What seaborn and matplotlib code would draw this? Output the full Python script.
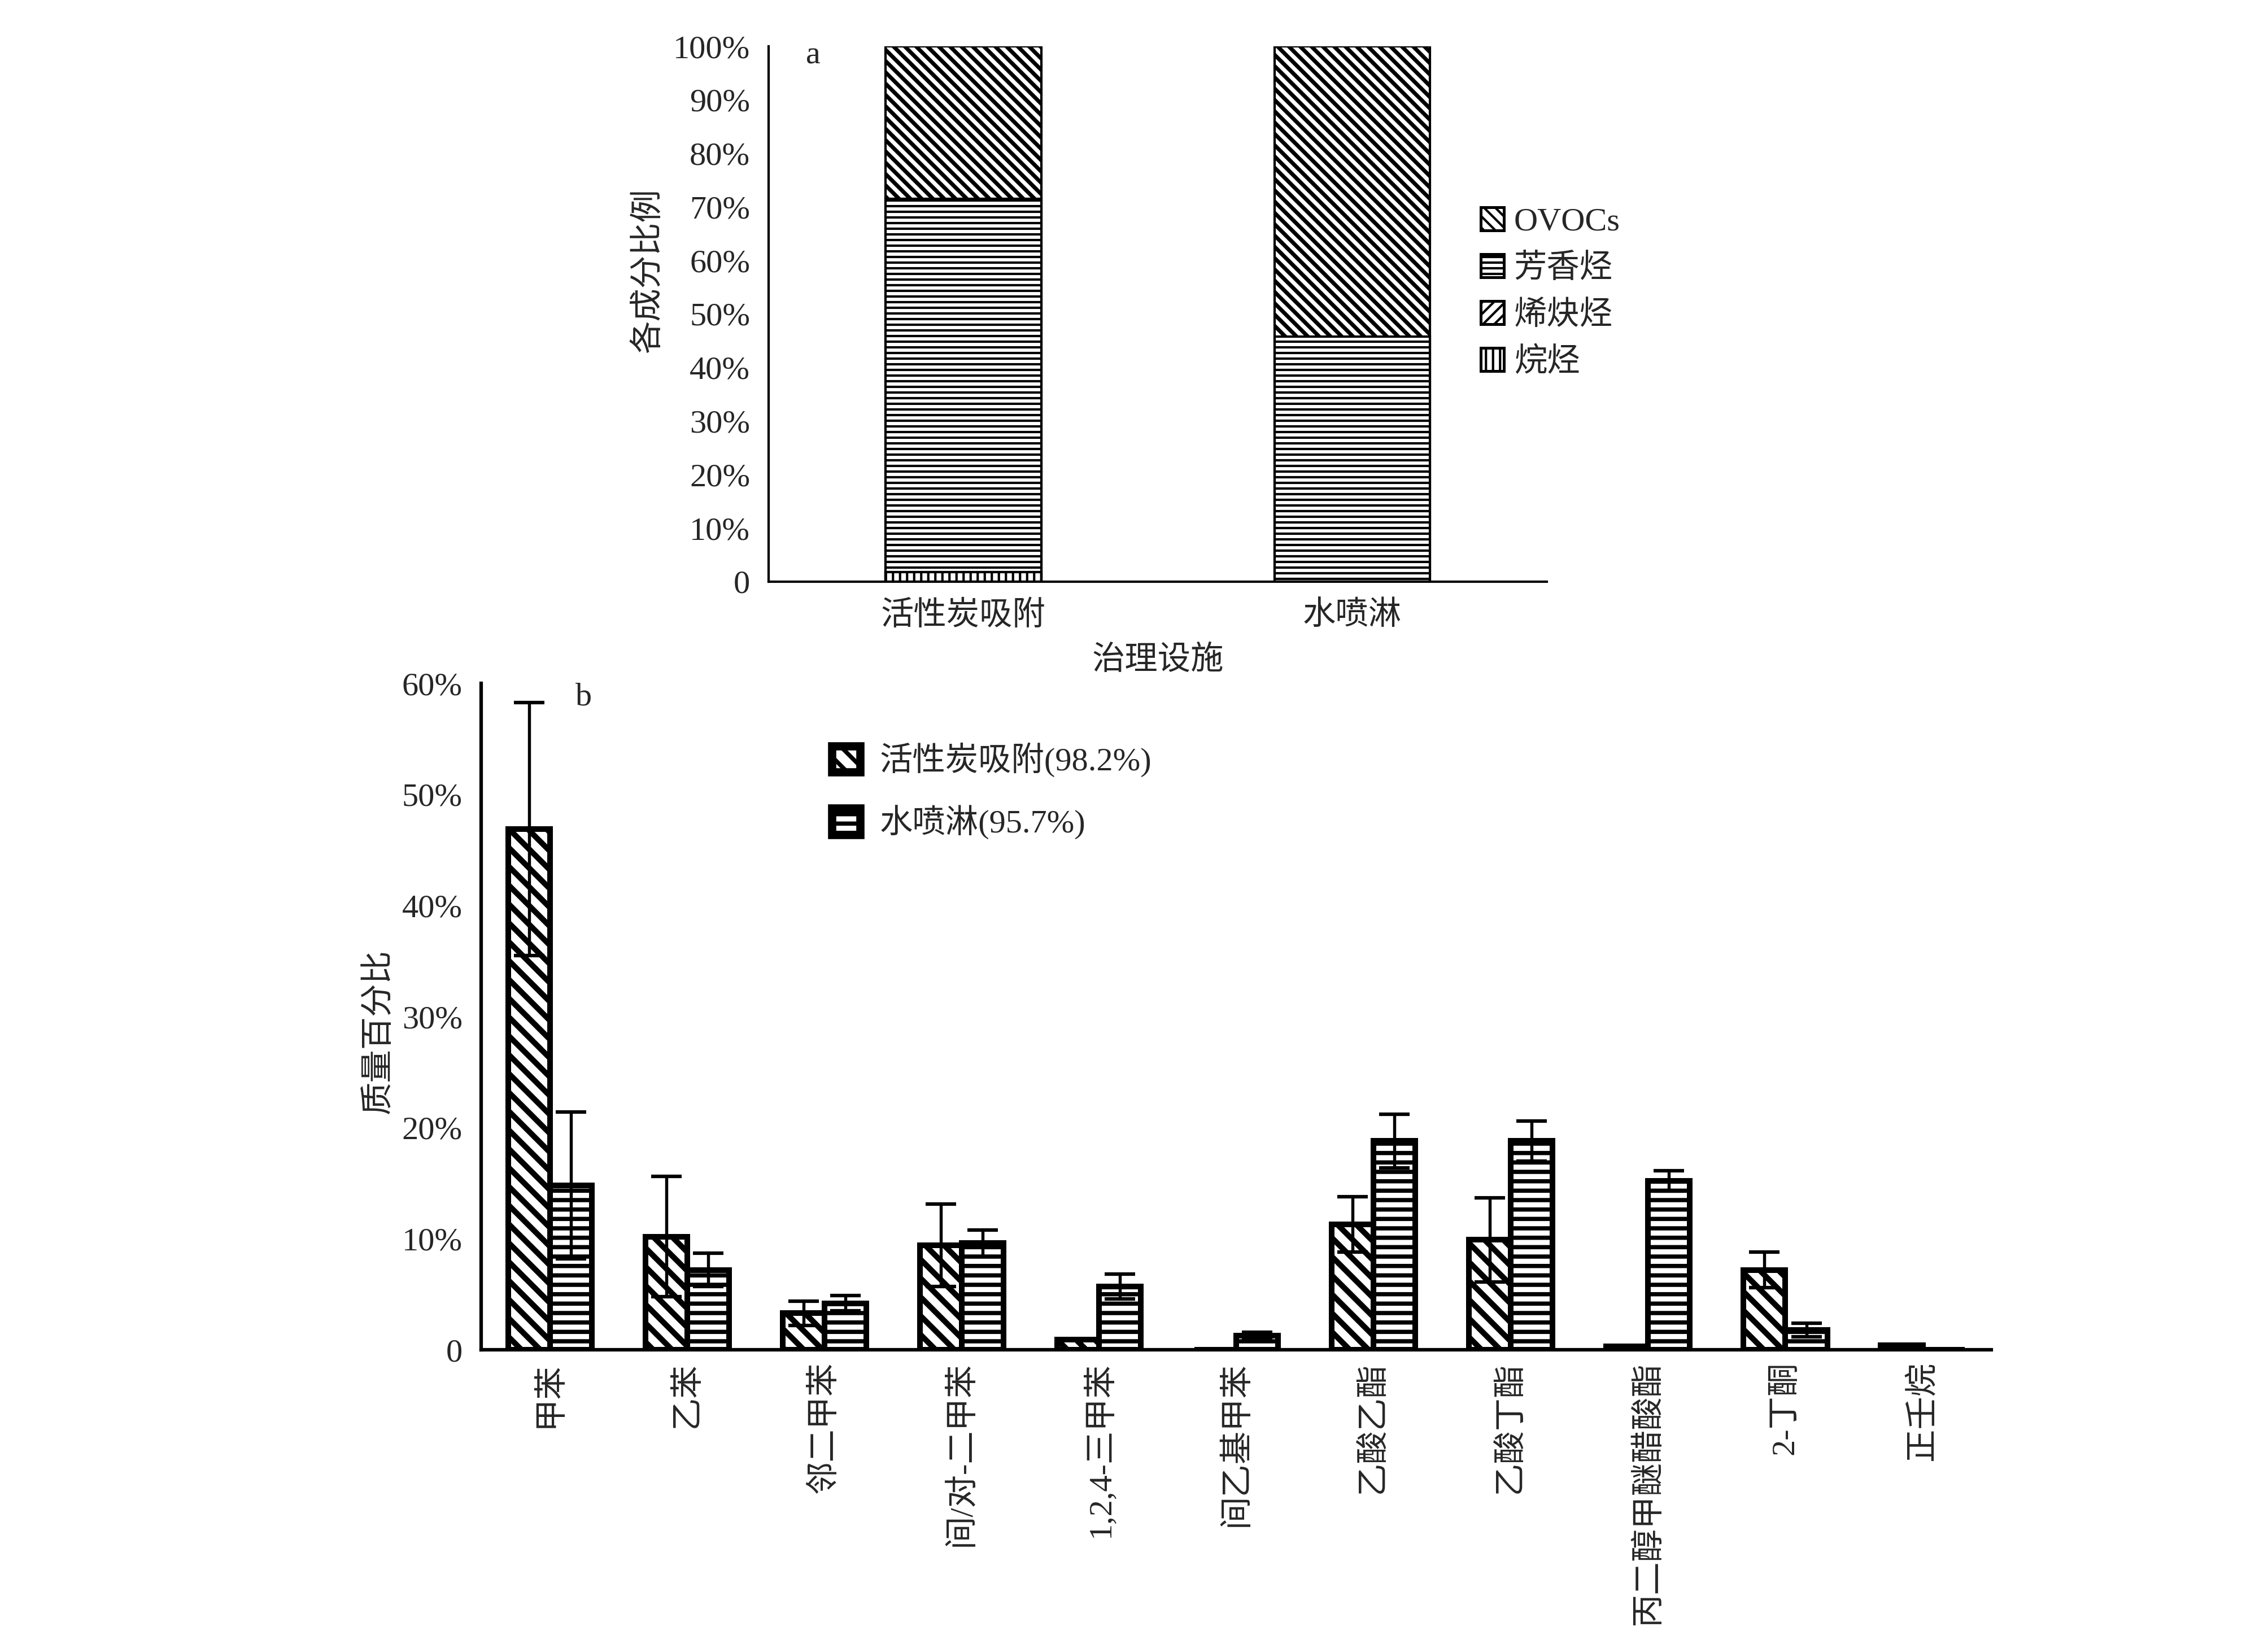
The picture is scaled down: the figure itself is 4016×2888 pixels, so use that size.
"""
Component shares (a) and mass percentages of VOC species (b) by treatment facility
"""
import numpy as np
import pandas as pd
import matplotlib
matplotlib.use('Agg')
import matplotlib.pyplot as plt
import seaborn as sns
from matplotlib.patches import Patch
from matplotlib.ticker import FuncFormatter, MultipleLocator

sns.set_style('white')
plt.rcParams['font.family'] = ['Liberation Serif', 'Noto Sans CJK SC']
plt.rcParams['font.size'] = 14
plt.rcParams['axes.unicode_minus'] = False

# ---- data, panel a (stacked shares, %) ----
facilities = ['活性炭吸附', '水喷淋']
alkane = [1.8, 0.0]
olefin = [0.0, 0.0]
aromatic = [69.7, 45.8]
ovoc = [28.5, 54.2]

# ---- data, panel b (mass %, mean and error) ----
compounds = ['甲苯', '乙苯', '邻二甲苯', '间/对-二甲苯', '1,2,4-三甲苯', '间乙基甲苯',
             '乙酸乙酯', '乙酸丁酯', '丙二醇甲醚醋酸酯', '2-丁酮', '正壬烷']
ac_mean = [46.9, 10.2, 3.3, 9.4, 0.9, 0.0, 11.3, 9.9, 0.3, 7.2, 0.4]
ac_err = [11.4, 5.4, 1.1, 3.7, 0.0, 0.0, 2.5, 3.8, 0.0, 1.6, 0.0]
ws_mean = [14.8, 7.2, 4.2, 9.6, 5.7, 1.3, 18.8, 18.8, 15.2, 1.8, 0.0]
ws_err = [6.6, 1.5, 0.7, 1.2, 1.1, 0.3, 2.4, 1.8, 0.9, 0.6, 0.0]
series_b = ['活性炭吸附(98.2%)', '水喷淋(95.7%)']

pct = FuncFormatter(lambda v, p: '0' if v == 0 else f'{v:.0f}%')


def set_hatch_lw(patch, lw):
    if hasattr(patch, 'set_hatch_linewidth'):
        patch.set_hatch_linewidth(lw)


fig = plt.figure(figsize=(4016 / 300, 2888 / 300))

# ================= panel a =================
ax1 = fig.add_axes([0.339, 0.6434, 0.343, 0.3282])

c1 = np.array(alkane)
c2 = c1 + np.array(olefin)
c3 = c2 + np.array(aromatic)
c4 = c3 + np.array(ovoc)
# (cumulative top, hatch, label, hatch line width)
layers = [(c4, '\\' * 5, 'OVOCs', 1.7), (c3, '-' * 5, '芳香烃', 1.0),
          (c2, '/' * 5, '烯炔烃', 1.7), (c1, '|' * 4, '烷烃', 1.0)]
for vals, hatch, name, hlw in layers:
    plt.rcParams['hatch.linewidth'] = hlw
    n_before = len(ax1.patches)
    sns.barplot(x=facilities, y=vals, order=facilities, color='white', saturation=1,
                edgecolor='black', linewidth=1.0, width=0.4, hatch=hatch, ax=ax1)
    for p in ax1.patches[n_before:]:
        set_hatch_lw(p, hlw)

ax1.set_ylim(0, 100)
ax1.set_xlim(-0.5, 1.5)
ax1.yaxis.set_major_locator(MultipleLocator(10))
ax1.yaxis.set_major_formatter(pct)
ax1.set_xticks([1.5], minor=True)
ax1.tick_params(axis='y', direction='in', length=4, width=1, pad=8, labelsize=14)
ax1.tick_params(axis='x', which='major', length=0, pad=8, labelsize=14)
ax1.tick_params(axis='x', which='minor', direction='in', length=6, width=1)
for s in ['top', 'right']:
    ax1.spines[s].set_visible(False)
for s in ['left', 'bottom']:
    ax1.spines[s].set_linewidth(1.0)
    ax1.spines[s].set_color('black')
ax1.set_xlabel('治理设施', fontsize=14, labelpad=6)
ax1.set_ylabel('各成分比例', fontsize=14)
ax1.yaxis.set_label_coords(-0.135, 0.581)
ax1.text(0.057, 0.983, 'a', transform=ax1.transAxes, ha='center', va='center', fontsize=14)

handles_a = []
for _, h, n, hlw in layers:
    plt.rcParams['hatch.linewidth'] = hlw
    hp = Patch(facecolor='white', edgecolor='black', linewidth=1.2, hatch=h, label=n)
    set_hatch_lw(hp, hlw)
    handles_a.append(hp)
fig.legend(handles=handles_a, loc='upper left', bbox_to_anchor=(0.653, 0.873),
           frameon=False, fontsize=14, borderpad=0, borderaxespad=0,
           handlelength=0.7, handleheight=0.7, handletextpad=0.3, labelspacing=0.5)

# ================= panel b =================
ax2 = fig.add_axes([0.2122, 0.1724, 0.6658, 0.4086])

df = pd.DataFrame({
    'compound': compounds * 2,
    'facility': [series_b[0]] * len(compounds) + [series_b[1]] * len(compounds),
    'value': ac_mean + ws_mean,
})
plt.rcParams['hatch.linewidth'] = 2.3
sns.barplot(data=df, x='compound', y='value', hue='facility', order=compounds,
            hue_order=series_b, palette=['white', 'white'], saturation=1,
            edgecolor='black', linewidth=2.4, width=0.61, errorbar=None,
            legend=False, ax=ax2)

hatches_b = ['\\' * 3, '-' * 3]
hatch_lw_b = [2.4, 1.8]
for cont, hatch, hlw, errs in zip(ax2.containers, hatches_b, hatch_lw_b, [ac_err, ws_err]):
    xs, ys, es = [], [], []
    for bar, e in zip(cont, errs):
        bar.set_hatch(hatch)
        set_hatch_lw(bar, hlw)
        if e > 0:
            xs.append(bar.get_x() + bar.get_width() / 2)
            ys.append(bar.get_height())
            es.append(e)
    ax2.errorbar(xs, ys, yerr=es, fmt='none', ecolor='black', elinewidth=1.3,
                 capsize=6.5, capthick=1.5, zorder=5)

ax2.set_ylim(0, 60)
ax2.set_xlim(-0.5, len(compounds) - 0.5)
ax2.yaxis.set_major_locator(MultipleLocator(10))
ax2.yaxis.set_major_formatter(pct)
ax2.set_xticks([len(compounds) - 0.5], minor=True)
ax2.set_xticks(range(len(compounds)))
ax2.set_xticklabels(compounds, rotation=90, fontsize=14)
ax2.tick_params(axis='y', direction='in', length=7, width=1.5, pad=8, labelsize=14)
ax2.tick_params(axis='x', which='major', length=0, pad=5)
ax2.tick_params(axis='x', which='minor', direction='in', length=12, width=1.5)
for s in ['top', 'right']:
    ax2.spines[s].set_visible(False)
for s in ['left', 'bottom']:
    ax2.spines[s].set_linewidth(1.5)
    ax2.spines[s].set_color('black')
ax2.set_xlabel('')
ax2.set_ylabel('质量百分比', fontsize=14)
ax2.yaxis.set_label_coords(-0.0576, 0.478)
ax2.text(0.068, 0.979, 'b', transform=ax2.transAxes, ha='center', va='center', fontsize=14)

handles_b = []
for h, n, hlw in zip(hatches_b, series_b, hatch_lw_b):
    plt.rcParams['hatch.linewidth'] = hlw
    hp = Patch(facecolor='white', edgecolor='black', linewidth=3.5, hatch=h, label=n)
    set_hatch_lw(hp, hlw)
    handles_b.append(hp)
fig.legend(handles=handles_b, loc='upper left', bbox_to_anchor=(0.3668, 0.5448),
           frameon=False, fontsize=14, borderpad=0, borderaxespad=0,
           handlelength=0.85, handleheight=0.85, handletextpad=0.6, labelspacing=0.85)

fig.savefig('out.png', dpi=300)
print('saved out.png')
